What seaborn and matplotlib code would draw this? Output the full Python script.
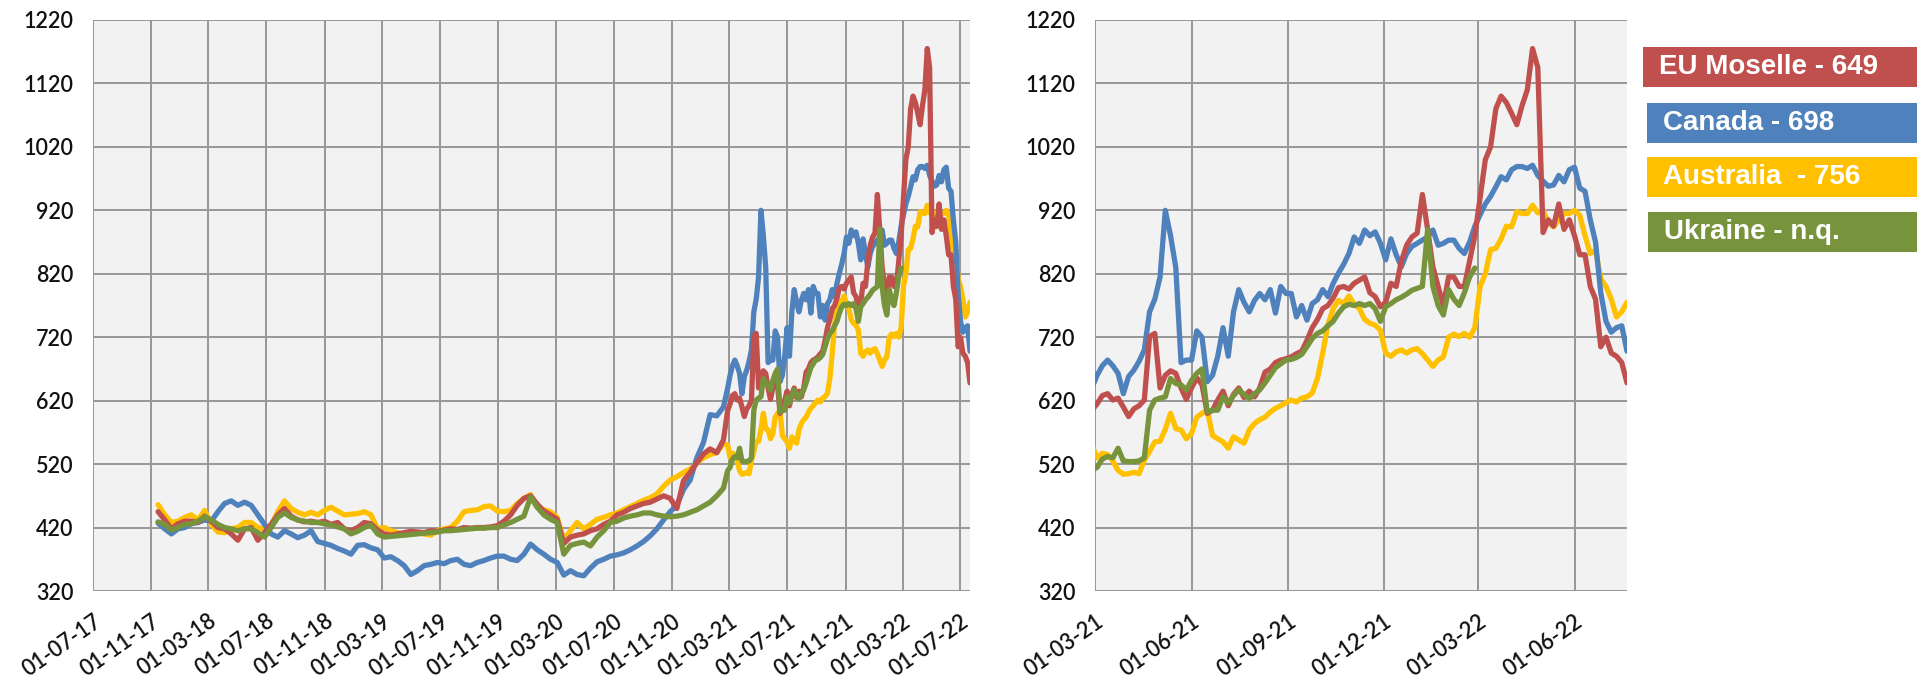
import numpy as np
import pandas as pd
import matplotlib
matplotlib.use('Agg')
import matplotlib.pyplot as plt
import matplotlib.dates as mdates
from matplotlib.patches import Rectangle
import seaborn as sns

# ---------------- data ----------------
series_names = ['EU Moselle', 'Canada', 'Australia', 'Ukraine']
legend_labels = ['EU Moselle - 649', 'Canada - 698', 'Australia  - 756', 'Ukraine - n.q.']
colors = ['#C0504D', '#4F81BD', '#FFC000', '#77933C']

# period A: every 14 days from 2017-11-15 ; period B: every 5 days from 2021-02-26
dates_a = pd.date_range('2017-11-15', periods=86, freq='14D')
dates_b = pd.date_range('2021-02-26', periods=103, freq='5D')

eu_a = [445, 432, 418, 426, 430, 430, 428, 438, 430, 420,
        418, 410, 400, 418, 420, 400, 412, 425, 440, 450,
        438, 432, 429, 430, 428, 430, 425, 428, 418, 415,
        420, 428, 426, 416,
        410, 408, 410, 412, 414, 413, 412, 415, 414, 416,
        418, 417, 420, 419, 420, 420, 421, 423, 430, 440,
        455, 466, 470, 457, 446, 440, 433, 395, 405, 408,
        410, 415, 418, 425, 430, 440, 444, 450, 454, 458,
        460, 465, 470, 466, 450, 494, 507, 522, 536, 544,
        538, 558]
canada_a = [427, 418, 410, 418, 420, 426, 428, 432, 430, 445,
            458, 462, 455, 460, 455, 440, 425, 410, 405, 415,
            410, 404, 408, 415, 398, 395, 392, 387, 383, 378,
            392, 393, 388, 385,
            372, 374, 368, 360, 346, 352, 360, 362, 365, 363,
            368, 370, 362, 360, 365, 368, 372, 375, 375, 370,
            368, 378, 394, 385, 378, 370, 365, 345, 352, 346,
            344, 356, 366, 370, 375, 377, 380, 385, 391, 398,
            407, 418, 432, 445, 455, 480, 495, 530, 554, 598,
            596, 610]
australia_a = [456, 440, 428, 430, 436, 440, 432, 447, 425, 413,
               412, 418, 420, 428, 428, 420, 418, 424, 445, 462,
               450, 444, 440, 444, 440, 447, 452, 446, 440, 441,
               442, 445, 440, 418,
               420, 415, 412, 408, 410, 412, 410, 408, 415, 418,
               420, 430, 445, 447, 448, 453, 454, 446, 445, 447,
               458, 466, 472, 452, 448, 445, 436, 400, 415, 428,
               418, 425, 433, 436, 440, 443, 448, 453, 458, 463,
               467, 473, 485, 495, 500, 507, 512, 522, 530, 535,
               538, 552]
ukraine_a = [429, 425, 416, 420, 425, 426, 430, 437, 432, 425,
             420, 418, 415, 418, 418, 412, 405, 420, 436, 443,
             436, 432, 430, 428, 428, 426, 424, 421, 418, 410,
             414, 420, 424, 410,
             405, 406, 407, 408, 409, 410, 411, 412, 413, 415,
             415, 416, 417, 418, 419, 419, 420, 420, 424, 428,
             433, 438, 468, 452, 440, 433, 428, 378, 392, 395,
             397, 391, 405, 415, 428, 430, 435, 438, 440, 443,
             443, 440, 438, 437, 438, 440, 444, 448, 454, 460,
             470, 482]

eu_b = [605, 615, 628, 631, 621, 624, 610, 595, 607, 612,
        621, 721, 726, 640, 660, 667, 663, 640, 622, 640,
        656, 645, 600, 605, 621, 635, 612, 630, 640, 625,
        635, 626, 640, 665, 670, 680, 684, 686, 689, 694,
        698, 715, 735, 748, 765, 770, 782, 798, 800, 796,
        805, 810, 815, 790, 784, 768, 775, 805, 800, 840,
        865, 878, 884, 945, 890, 831, 800, 770, 815, 815,
        800, 800, 840, 880, 940, 1000, 1020, 1080, 1100, 1090,
        1073, 1055, 1085, 1110, 1175, 1145, 885, 905, 895, 930,
        890, 905, 880, 850, 850, 800, 780, 705, 720, 695,
        690, 680, 648]
canada_b = [640, 660, 675, 684, 675, 663, 631, 658, 668, 682,
            700, 760, 780, 815, 920, 880, 830, 680, 684, 684,
            730, 720, 650, 660, 690, 735, 690, 760, 795, 775,
            760, 778, 789, 779, 795, 758, 800, 789, 789, 752,
            770, 747, 773, 779, 795, 784, 805, 821, 835, 852,
            878, 868, 889, 880, 886, 868, 842, 875, 850, 831,
            852, 863, 868, 873, 878, 889, 865, 868, 873, 873,
            860, 852, 870, 895, 913, 930, 942, 957, 973, 968,
            984, 989, 989, 986, 991, 975, 966, 958, 960, 975,
            965, 984, 988, 955, 950, 905, 870, 790, 745, 728,
            735, 738, 698]
australia_b = [550, 530, 537, 535, 525, 510, 504, 505, 507, 505,
               526, 540, 555, 556, 575, 600, 576, 574, 560, 568,
               594, 600, 605, 565, 560, 555, 545, 563, 558, 553,
               574, 584, 590, 594, 602, 608, 612, 617, 621, 618,
               624, 626, 632, 655, 695, 740, 765, 778, 773, 785,
               772, 765, 748, 742, 739, 731, 695, 690, 697, 700,
               695, 700, 702, 694, 684, 674, 684, 689, 720, 725,
               721, 726, 720, 735, 800, 820, 858, 860, 875, 895,
               894, 918, 915, 915, 928, 916, 920, 900, 894, 905,
               915, 915, 920, 912, 880, 852, 857, 812, 800, 780,
               752, 760, 775]
ukraine_b = [510, 515, 528, 532, 530, 545, 525, 524, 524, 525,
             530, 605, 621, 624, 626, 655, 647, 645, 637, 652,
             663, 670, 602, 605, 605, 626, 616, 628, 637, 630,
             623, 631, 637, 648, 660, 672, 678, 684, 685, 688,
             693, 705, 718, 726, 730, 738, 745, 758, 768, 772,
             770, 773, 770, 773, 765, 745, 768, 773, 779, 783,
             788, 794, 797, 800, 890, 800, 770, 755, 795, 780,
             770, 790, 815, 829]

# ---------------- frame ----------------
frames = []
for name, va, vb in zip(series_names,
                        [eu_a, canada_a, australia_a, ukraine_a],
                        [eu_b, canada_b, australia_b, ukraine_b]):
    d = list(dates_a[:len(va)]) + list(dates_b[:len(vb)])
    frames.append(pd.DataFrame({'date': d, 'value': list(va) + list(vb), 'series': name}))
df = pd.concat(frames, ignore_index=True)

sns.set_theme(style='white')
plt.rcParams['font.family'] = ['Lato', 'DejaVu Sans']

W, H = 1921, 681
fig = plt.figure(figsize=(W / 100, H / 100), dpi=100)
ax1 = fig.add_axes([93 / W, 1 - 591 / H, (970 - 93) / W, (591 - 20) / H])
ax2 = fig.add_axes([1095 / W, 1 - 591 / H, (1627 - 1095) / W, (591 - 20) / H])

palette = dict(zip(series_names, colors))
draw_order = ['Australia', 'Canada', 'EU Moselle', 'Ukraine']

for ax in (ax1, ax2):
    sns.lineplot(data=df, x='date', y='value', hue='series', hue_order=draw_order,
                 palette=palette, linewidth=3.8, estimator=None, errorbar=None,
                 legend=False, ax=ax)

ticks1 = pd.date_range('2017-07-01', '2022-07-01', freq='4MS')
ticks2 = pd.date_range('2021-03-01', '2022-06-01', freq='3MS')
lims = [(pd.Timestamp('2017-07-01'), pd.Timestamp('2022-07-21')),
        (pd.Timestamp('2021-03-01'), pd.Timestamp('2022-07-21'))]

for ax, ticks, lim in zip((ax1, ax2), (ticks1, ticks2), lims):
    ax.set_facecolor('#F2F2F2')
    ax.set_ylim(320, 1220)
    ax.set_yticks(range(320, 1221, 100))
    ax.set_xlim(mdates.date2num(lim[0]), mdates.date2num(lim[1]))
    ax.set_xticks(mdates.date2num(ticks))
    ax.set_xticklabels([t.strftime('%d-%m-%y') for t in ticks], rotation=35,
                       ha='right', va='top', rotation_mode='anchor')
    ax.grid(True, color='#979797', linewidth=1.4)
    ax.set_axisbelow(True)
    for s in ax.spines.values():
        s.set_visible(False)
    ax.tick_params(axis='both', length=5, width=1.4, color='#979797',
                   labelsize=15.5, labelcolor='#111111')
    for lbl in ax.get_xticklabels() + ax.get_yticklabels():
        lbl.set_fontweight('semibold')
    ax.tick_params(axis='x', pad=9)
    ax.tick_params(axis='y', pad=9)
    ax.set_xlabel('')
    ax.set_ylabel('')

# ---------------- legend boxes ----------------
box_left = [1643, 1647, 1647, 1648]
box_right = 1917
box_top = [47, 103, 157, 212]
box_h = 40
for lab, c, l, t in zip(legend_labels, colors, box_left, box_top):
    fig.add_artist(Rectangle((l / W, 1 - (t + box_h) / H), (box_right - l) / W, box_h / H,
                             transform=fig.transFigure, facecolor=c, edgecolor='none'))
    fig.text((l + 16) / W, 1 - (t + box_h / 2) / H, lab, color='white', fontsize=20,
             fontweight='bold', family=['Liberation Sans', 'DejaVu Sans'],
             ha='left', va='center')

fig.savefig('out.png', dpi=100, facecolor='white')
